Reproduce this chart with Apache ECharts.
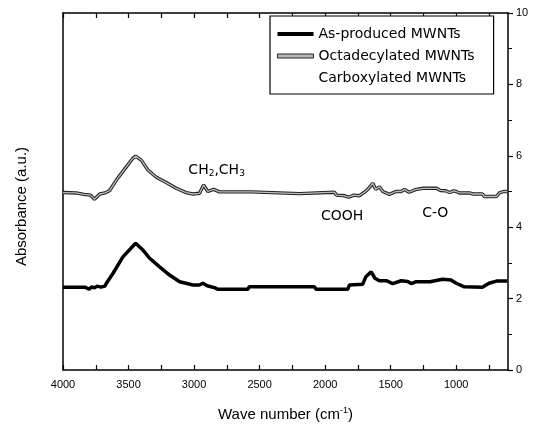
<!DOCTYPE html>
<html><head><meta charset="utf-8">
<script src="https://cdn.jsdelivr.net/npm/echarts@6/dist/echarts.min.js"></script>
<style>html,body{margin:0;padding:0;background:#fff}#c{width:541px;height:430px}</style>
</head><body><div id="c"></div>
<script>
// Wavenumber (cm^-1) and absorbance
const octX = [4000,3900,3840,3790,3760,3720,3680,3645,3593,3517,3470,3446,3403,3352,3288,3212,3136,3060,3009,2958,2928,2895,2851,2806,2564,2554,2196,2183,1929,1914,1850,1820,1780,1740,1700,1670,1636,1615,1586,1560,1510,1460,1420,1395,1360,1305,1250,1150,1120,1080,1050,1020,1000,976,900,870,800,786,693,670,640,610];
const octY = [4.97,4.96,4.92,4.9,4.78,4.93,4.96,5.02,5.32,5.69,5.92,5.99,5.88,5.6,5.4,5.25,5.09,4.97,4.93,4.95,5.18,5.0,5.06,4.99,4.99,4.94,4.94,4.98,4.98,4.9,4.88,4.84,4.9,4.88,4.98,5.08,5.23,5.06,5.13,5.0,4.92,5.0,5.0,5.06,4.98,5.06,5.09,5.09,5.03,5.02,4.97,5.02,5.0,4.96,4.96,4.93,4.93,4.86,4.86,4.96,5.0,5.0];
const asX = [4000,3830,3800,3780,3760,3740,3710,3680,3669,3618,3543,3446,3390,3339,3263,3187,3110,3009,2960,2933,2900,2840,2820,2590,2580,2081,2069,1828,1815,1714,1690,1649,1620,1586,1530,1485,1420,1370,1344,1310,1200,1105,1040,1000,938,801,750,693,610];
const asY = [2.32,2.32,2.26,2.33,2.3,2.35,2.32,2.35,2.43,2.71,3.17,3.55,3.36,3.13,2.89,2.66,2.47,2.38,2.38,2.43,2.36,2.3,2.26,2.26,2.33,2.33,2.26,2.26,2.38,2.4,2.61,2.75,2.57,2.5,2.5,2.42,2.5,2.48,2.42,2.47,2.47,2.54,2.52,2.43,2.33,2.32,2.43,2.49,2.49];
const xMajorTicks = [4000,3500,3000,2500,2000,1500,1000];
const xAllTicks = [4000,3750,3500,3250,3000,2750,2500,2250,2000,1750,1500,1250,1000,750];
const seriesNames = ['As-produced MWNTs','Octadecylated MWNTs','Carboxylated MWNTs'];
const notes = [
  {text:'CH{sub|2},CH{sub|3}', x:2828, y:5.6},
  {text:'COOH', x:1870, y:4.29},
  {text:'C-O', x:1160, y:4.4}
];
const zip = (a,b)=>a.map((v,i)=>[v,b[i]]);
const F = 'Liberation Sans, Arial, sans-serif';
const FW = 'DejaVu Sans, sans-serif';
const chart = echarts.init(document.getElementById('c'));
const xBase = {
  type:'value', inverse:true, min:605, max:4000,
  splitLine:{show:false},
  axisLine:{onZero:false,lineStyle:{color:'#000',width:1.5}},
  axisTick:{inside:true,length:5,customValues:xAllTicks,lineStyle:{color:'#000',width:1.2}}
};
chart.setOption({
  animation:false,
  grid:{left:63,right:33,top:13,bottom:60},
  legend:{
    left:270, top:16, orient:'vertical', selectedMode:false,
    backgroundColor:'#fff', borderColor:'#000', borderWidth:1.2,
    padding:[11,19,9,7], itemGap:8, itemWidth:36, itemHeight:4,
    textStyle:{fontFamily:FW,fontSize:14,color:'#000'},
    data:[
      {name:seriesNames[0], icon:'rect', itemStyle:{color:'#000',borderWidth:0}},
      {name:seriesNames[1], icon:'rect', itemStyle:{color:'#b8b8b8',borderColor:'#222',borderWidth:1}},
      {name:seriesNames[2], icon:'rect', itemStyle:{color:'rgba(0,0,0,0)',borderWidth:0}}
    ]
  },
  xAxis:[
    Object.assign({}, xBase, {position:'bottom',
      axisLabel:{customValues:xMajorTicks,formatter:v=>String(v),fontFamily:F,fontSize:11,color:'#000',margin:9},
      name:'Wave number (cm{sup|-1})', nameLocation:'middle', nameGap:36,
      nameTextStyle:{fontFamily:F,fontSize:15,color:'#000',rich:{sup:{fontSize:9,verticalAlign:'top',padding:[0,0,8,0],fontFamily:F,color:'#000'}}}
    }),
    Object.assign({}, xBase, {position:'top', axisLabel:{show:false}})
  ],
  yAxis:[
    {type:'value',min:0,max:10,position:'left',splitLine:{show:false},
     axisLine:{show:true,onZero:false,lineStyle:{color:'#000',width:1.5}},axisTick:{show:false},axisLabel:{show:false},
     name:'Absorbance (a.u.)',nameLocation:'middle',nameGap:34,
     nameTextStyle:{fontFamily:F,fontSize:15,color:'#000',padding:[0,30,0,0]}},
    {type:'value',min:0,max:10,interval:2,position:'right',splitLine:{show:false},
     axisLine:{show:true,onZero:false,lineStyle:{color:'#000',width:1.5}},
     axisTick:{length:5,lineStyle:{color:'#000',width:1.2}},
     minorTick:{show:true,splitNumber:2,length:4,lineStyle:{color:'#000',width:1}},
     axisLabel:{fontFamily:F,fontSize:11,color:'#000',margin:8}}
  ],
  series:[
    {name:seriesNames[1],type:'line',data:zip(octX,octY),showSymbol:false,symbol:'none',
     lineStyle:{color:'#222',width:3.4},z:2},
    {name:'oct-inner',type:'line',data:zip(octX,octY),showSymbol:false,symbol:'none',
     lineStyle:{color:'#bdbdbd',width:1.3},z:3},
    {name:seriesNames[0],type:'line',data:zip(asX,asY),showSymbol:false,symbol:'none',
     lineStyle:{color:'#000',width:3.5},z:4,
     markPoint:{symbol:'circle',symbolSize:0,silent:true,
       label:{show:true,position:'inside',fontFamily:FW,fontSize:14,color:'#000',
         formatter:p=>p.name,rich:{sub:{fontSize:9,verticalAlign:'bottom',padding:[8,0,0,0],fontFamily:FW,color:'#000'}}},
       data:notes.map(n=>({name:n.text,coord:[n.x,n.y]}))}},
    {name:seriesNames[2],type:'line',data:[],showSymbol:false,lineStyle:{color:'rgba(0,0,0,0)'}}
  ]
});
</script></body></html>
